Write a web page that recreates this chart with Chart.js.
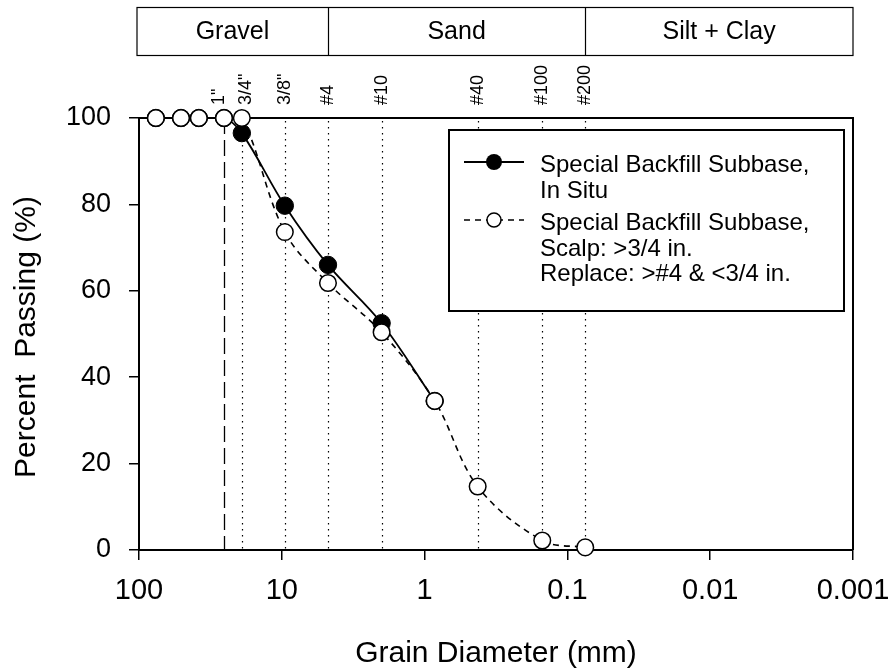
<!DOCTYPE html>
<html>
<head>
<meta charset="utf-8">
<script src="https://cdn.jsdelivr.net/npm/chart.js@4/dist/chart.umd.min.js"></script>
<style>
  html, body { margin: 0; padding: 0; background: #fff; }
  #wrap { width: 891px; height: 669px; }
</style>
</head>
<body>
<div id="wrap"><canvas id="c" width="891" height="669"></canvas></div>
<script>
// Sieve openings (mm) and their names
const sieveNames = ['1"', '3/4"', '3/8"', '#4', '#10', '#40', '#100', '#200'];
const sieveSizes = [25.4, 19.05, 9.525, 4.75, 2.0, 0.425, 0.15, 0.075];

// Soil classes along the top band and their diameter limits (mm)
const zoneNames = ['Gravel', 'Sand', 'Silt + Clay'];
const zoneLimits = [100, 4.75, 0.075, 0.001];

// Gradation: Special Backfill Subbase, in situ
const inSituDiam = [76.2, 50.8, 38.1, 25.4, 19.05, 9.525, 4.75, 2.0, 0.85];
const inSituPass = [100, 100, 100, 100, 96.5, 79.7, 66.0, 52.5, 34.5];

// Gradation: scalped >3/4 in., replaced >#4 & <3/4 in.
const scalpDiam = [76.2, 50.8, 38.1, 25.4, 19.05, 9.525, 4.75, 2.0, 0.85, 0.425, 0.15, 0.075];
const scalpPass = [100, 100, 100, 100, 100, 73.6, 61.8, 50.4, 34.5, 14.7, 2.2, 0.6];

// Axis ticks
const xTickValues = [100, 10, 1, 0.1, 0.01, 0.001];
const xTickLabels = ['100', '10', '1', '0.1', '0.01', '0.001'];
const yTickValues = [0, 20, 40, 60, 80, 100];

// Legend entries
const legendLabels = [
  ['Special Backfill Subbase,', 'In Situ'],
  ['Special Backfill Subbase,', 'Scalp: >3/4 in.', 'Replace: >#4 & <3/4 in.']
];

const FONT = "'Liberation Sans', Arial, Helvetica, sans-serif";

const toPoints = (xs, ys) => xs.map((x, i) => ({ x: x, y: ys[i] }));

// Sieve lines under the data, plus the top/right frame
const sievePlugin = {
  id: 'sieves',
  beforeDatasetsDraw(chart) {
    const { ctx, chartArea: a, scales: { x } } = chart;
    ctx.save();
    ctx.strokeStyle = '#000';
    sieveSizes.forEach((d, i) => {
      const px = Math.round(x.getPixelForValue(d)) + 0.5;
      ctx.beginPath();
      if (i === 0) {
        ctx.lineWidth = 1.3;
        ctx.setLineDash([16, 6]);
        ctx.moveTo(px, a.top);
      } else {
        ctx.lineWidth = 1.2;
        ctx.setLineDash([1.5, 4.5]);
        ctx.moveTo(px, a.top + 3);
      }
      ctx.lineTo(px, a.bottom);
      ctx.stroke();
    });
    ctx.setLineDash([]);
    ctx.lineWidth = 2;
    ctx.beginPath();
    ctx.moveTo(a.left, a.top);
    ctx.lineTo(a.right, a.top);
    ctx.lineTo(a.right, a.bottom);
    ctx.stroke();
    ctx.restore();
  }
};

// Class band, sieve names, axis titles and legend
const overlayPlugin = {
  id: 'overlay',
  afterDraw(chart) {
    const { ctx, chartArea: a, scales: { x } } = chart;
    ctx.save();
    ctx.fillStyle = '#000';
    ctx.strokeStyle = '#000';

    // soil class band
    const bandTop = 7.5, bandBottom = 55.5;
    const bx = zoneLimits.map((d, i) => i === 0 ? a.left - 2 : x.getPixelForValue(d));
    ctx.lineWidth = 1.2;
    ctx.strokeRect(bx[0], bandTop, bx[bx.length - 1] - bx[0], bandBottom - bandTop);
    ctx.font = '25px ' + FONT;
    ctx.textAlign = 'center';
    ctx.textBaseline = 'middle';
    zoneNames.forEach((n, i) => {
      if (i > 0) {
        const px = Math.round(bx[i]) + 0.5;
        ctx.beginPath();
        ctx.moveTo(px, bandTop);
        ctx.lineTo(px, bandBottom);
        ctx.stroke();
      }
      ctx.fillText(n, (bx[i] + bx[i + 1]) / 2, (bandTop + bandBottom) / 2 + 1);
    });

    // sieve names, rotated
    ctx.font = '18px ' + FONT;
    ctx.textAlign = 'left';
    ctx.textBaseline = 'middle';
    const nudge = { 0: -5, 1: 4 };
    sieveSizes.forEach((d, i) => {
      const px = x.getPixelForValue(d) + (nudge[i] || 0);
      ctx.save();
      ctx.translate(px, 105);
      ctx.rotate(-Math.PI / 2);
      ctx.fillText(sieveNames[i], 0, 0);
      ctx.restore();
    });

    // axis titles
    ctx.font = '30px ' + FONT;
    ctx.textAlign = 'center';
    ctx.textBaseline = 'alphabetic';
    ctx.fillText('Grain Diameter (mm)', (a.left + a.right) / 2, 662);
    ctx.save();
    ctx.translate(35, 337);
    ctx.rotate(-Math.PI / 2);
    ctx.fillText('Percent  Passing (%)', 0, 0);
    ctx.restore();

    // legend
    const L = { left: 449, top: 130, right: 844, bottom: 311 };
    ctx.fillStyle = '#fff';
    ctx.fillRect(L.left, L.top, L.right - L.left, L.bottom - L.top);
    ctx.lineWidth = 2;
    ctx.strokeRect(L.left, L.top, L.right - L.left, L.bottom - L.top);

    // entry 1: solid line, filled dot
    ctx.lineWidth = 2;
    ctx.beginPath();
    ctx.moveTo(464, 162); ctx.lineTo(524, 162);
    ctx.stroke();
    ctx.fillStyle = '#000';
    ctx.beginPath();
    ctx.arc(494, 162, 8, 0, Math.PI * 2);
    ctx.fill();

    // entry 2: dashed line, open circle
    ctx.lineWidth = 1.6;
    ctx.setLineDash([6, 5]);
    ctx.beginPath();
    ctx.moveTo(464, 220); ctx.lineTo(524, 220);
    ctx.stroke();
    ctx.setLineDash([]);
    ctx.fillStyle = '#fff';
    ctx.beginPath();
    ctx.arc(494, 220, 7, 0, Math.PI * 2);
    ctx.fill();
    ctx.lineWidth = 1.5;
    ctx.stroke();

    ctx.fillStyle = '#000';
    ctx.font = '24px ' + FONT;
    ctx.textAlign = 'left';
    ctx.textBaseline = 'alphabetic';
    const baselines = [[172, 197.5], [230, 255.5, 281]];
    legendLabels.forEach((lines, k) => {
      lines.forEach((t, j) => ctx.fillText(t, 540, baselines[k][j]));
    });
    ctx.restore();
  }
};

new Chart(document.getElementById('c'), {
  type: 'line',
  data: {
    datasets: [
      {
        label: 'Special Backfill Subbase, Scalp: >3/4 in. Replace: >#4 & <3/4 in.',
        data: toPoints(scalpDiam, scalpPass),
        borderColor: '#000',
        borderWidth: 1.6,
        borderDash: [6, 5],
        pointRadius: 8.3,
        pointBorderWidth: 1.5,
        pointBackgroundColor: '#fff',
        pointBorderColor: '#000',
        tension: 0.35,
        clip: false,
        order: 0
      },
      {
        label: 'Special Backfill Subbase, In Situ',
        data: toPoints(inSituDiam, inSituPass),
        borderColor: '#000',
        borderWidth: 1.8,
        pointRadius: 8.7,
        pointBorderWidth: 1,
        pointBackgroundColor: '#000',
        pointBorderColor: '#000',
        tension: 0.35,
        clip: false,
        order: 1
      }
    ]
  },
  options: {
    responsive: false,
    animation: false,
    layout: { padding: { left: 0, right: 38, top: 118, bottom: 0 } },
    plugins: { legend: { display: false }, tooltip: { enabled: false } },
    scales: {
      x: {
        type: 'logarithmic',
        reverse: true,
        min: 0.001,
        max: 100,
        afterBuildTicks(s) { s.ticks = xTickValues.map(v => ({ value: v })); },
        afterFit(s) { s.height = 119; s.paddingLeft = 0; s.paddingRight = 0; },
        ticks: {
          autoSkip: false,
          maxRotation: 0,
          color: '#000',
          padding: 14,
          font: { family: FONT, size: 29 },
          callback: (v, i) => xTickLabels[i]
        },
        grid: { drawOnChartArea: false, drawTicks: true, tickLength: 10, color: '#000', lineWidth: 1.5 },
        border: { display: true, color: '#000', width: 2 }
      },
      y: {
        min: 0,
        max: 100,
        afterBuildTicks(s) { s.ticks = yTickValues.map(v => ({ value: v })); },
        afterFit(s) { s.width = 139; s.paddingTop = 0; s.paddingBottom = 0; },
        ticks: {
          color: '#000',
          padding: 18,
          font: { family: FONT, size: 27 }
        },
        grid: { drawOnChartArea: false, drawTicks: true, tickLength: 10, color: '#000', lineWidth: 1.5 },
        border: { display: true, color: '#000', width: 2 }
      }
    }
  },
  plugins: [sievePlugin, overlayPlugin]
});
</script>
</body>
</html>
